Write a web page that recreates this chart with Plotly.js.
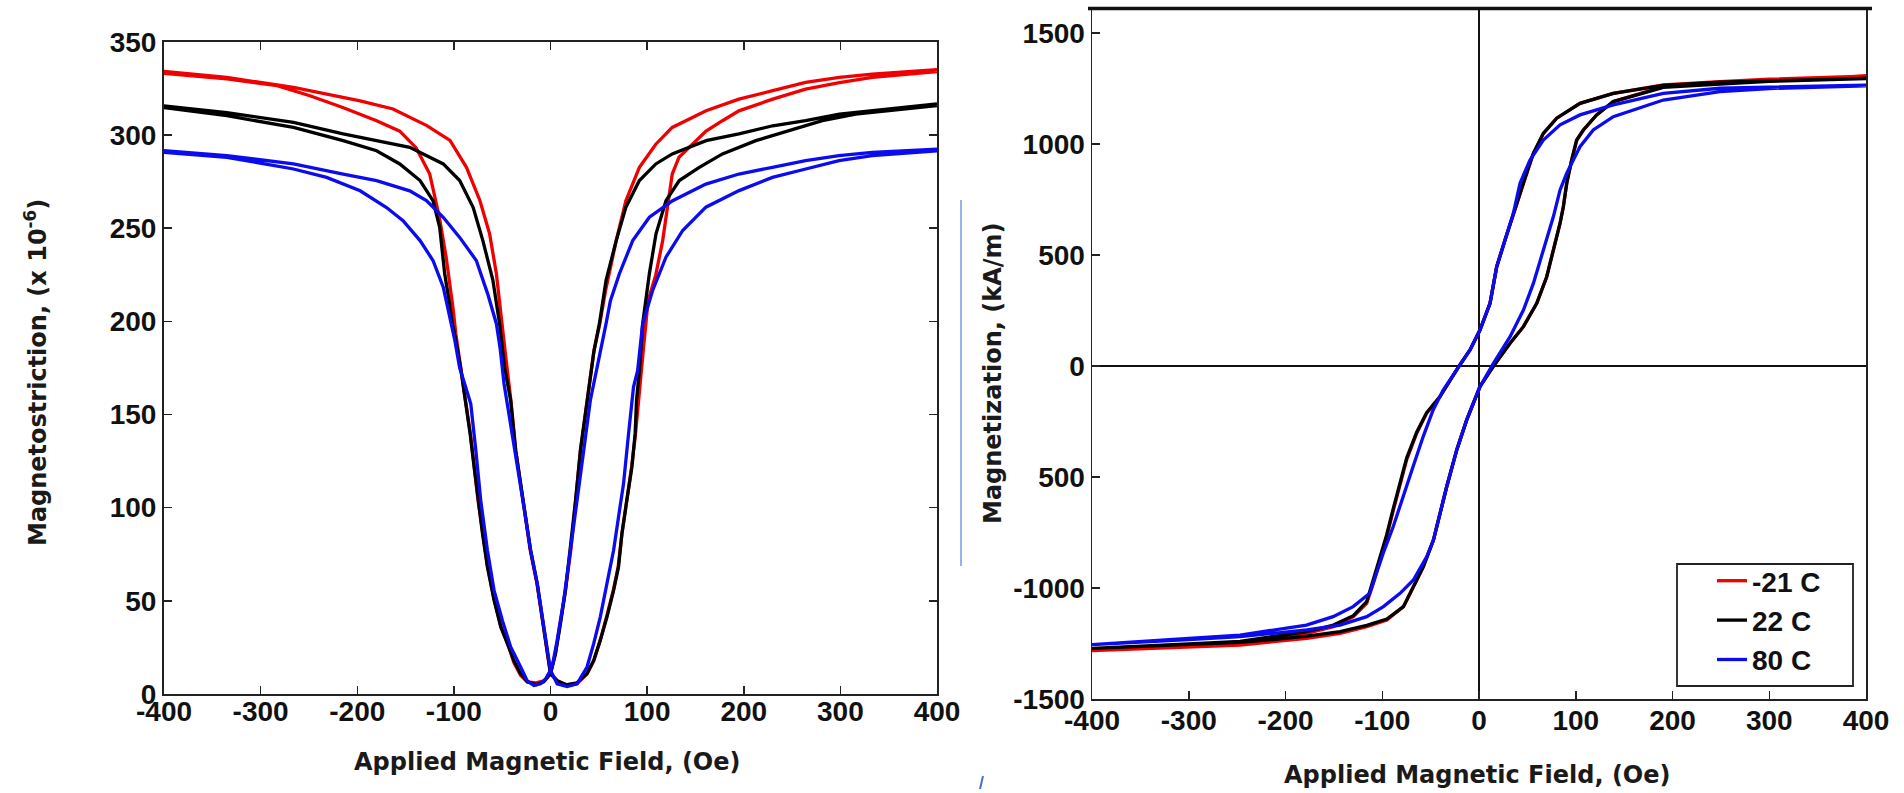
<!DOCTYPE html>
<html>
<head>
<meta charset="utf-8">
<script src="https://cdn.plot.ly/plotly-3.0.1.min.js"></script>
<style>html,body{margin:0;padding:0;background:#fff;}#chart{width:1904px;height:793px;}</style>
</head>
<body>
<div id="chart"></div>
<script>
// ---------- Left chart: magnetostriction (x 10^-6) vs applied field (Oe) ----------
const lsRedDescH = [400,333,299,264,230,195,161,126,109,92,78,68,57,51,45,38,31,26,21,15.5,10,5,0,-7,-15,-24,-31,-38,-43,-51,-58,-65,-70,-75,-79,-83,-88,-93,-98,-101,-104,-108,-115,-125,-139,-156,-180,-215,-249,-283,-335,-400];
const lsRedDescL = [335,332.6,330.8,328.2,323.7,319.2,313,304,295,282.6,264.7,243.3,216.5,198.7,184.4,157.5,130.8,103.9,77.1,55.6,37.7,21.7,10.9,7,6,6.5,10,17,25,36,50,68,86,104,122,140,157.5,175.4,193.3,207.6,220,234.4,255.8,279,293,302,307.6,314.7,321,326.4,330,333];
const lsRedAscH = [-400,-335,-266,-232,-197,-163,-128,-104,-87,-73,-63,-56,-50,-47,-41,-36,-31,-26,-21,-14,-8.6,-3.4,0,7,17,27.5,38,45,51.5,58,65,70,74,79,84,88,91,96,101,109,116,121,126,133,147,161,178,195,230,264,299,333,400];
const lsRedAscL = [334,330.8,325.5,322,318.3,313.9,305,297,282.6,264.7,246.9,225.5,200,184,157.5,130.8,112.9,95,77.1,59.2,41.3,23.4,10.9,7.3,4.6,5.5,10.9,18.1,28.8,41.3,55.6,68.2,86.1,103.9,121.8,139.7,157.5,184.4,211,225,243,261,279,288,295,302,307.6,312.9,319.2,324.5,328.1,330.8,334];

const lsBlackDescH = [400,333,299,264,230,195,161,126,109,92,78,68,57.5,50.6,45,38,31,26,20.6,15.5,10.3,5.2,0,-7,-15,-24,-31,-38,-43,-51.5,-58.4,-65.3,-70.4,-75,-79,-83.2,-88,-93,-98,-102,-105,-109.5,-114.7,-121.6,-135,-156,-180,-214.6,-266,-335,-400];
const lsBlackDescL = [316.6,313,311.2,307.6,304.9,300.5,296.9,289.8,284.4,275.5,261.2,243.3,221.9,198.7,184,157.5,130.8,104,77,55.6,37.7,21.7,10.9,6.5,5,6.5,11,18,25,36,50.3,68.2,86.1,103.9,121.8,139.7,157.5,175,190,200,211,225.5,250.4,264.7,275.5,284.4,291.5,296.9,304,310.3,314.7];
const lsBlackAscH = [-400,-335,-266,-214.6,-180,-145.7,-111,-94,-80,-70,-59.6,-52.7,-47.5,-41.2,-36.1,-30.9,-25.8,-20.6,-13.7,-8.6,-3.4,0,6.9,17,27.5,37.8,44.7,51.5,58.4,65.3,70.4,73.9,79,84.2,87.6,89,92,95.4,102.3,109.2,119.5,133.3,154,178,212.5,246.9,281.3,315.8,400];
const lsBlackAscL = [315.6,312,306.7,300.5,296.9,293.3,284.4,275.5,261,243.3,221.9,198.7,175,157.5,130.8,112.9,95,77.1,59.2,41.3,23.4,10.9,7,5,6,11,18,28.8,41.3,55.6,68.2,86.1,103.9,121.8,139.7,157.5,173.6,198.7,225.5,246.9,264.7,275.5,282.6,289.8,296.9,302.2,307.6,311.2,315.7];

const lsBlueDescH = [400,333,298.6,264,229.7,195,160.8,126.4,102.3,85.1,71.3,62,57.5,48,41.2,34.4,27.5,20.6,13.7,6.9,1.7,-5,-10.3,-17.2,-24,-30.9,-41.2,-49.8,-58.4,-65.3,-72.2,-77.3,-82.5,-88,-94,-99,-104,-111,-121.6,-135,-152.6,-169.7,-197,-231.7,-266,-335,-400];
const lsBlueDescL = [292.4,290.6,288.9,286.2,282.6,279,273.6,264.7,255.8,243.3,225.5,211,198.7,175.4,157.5,130.8,103.9,77.1,50.3,28.8,14.5,8,5.5,4.6,7,14.5,25.2,39.5,55.6,77.1,103.9,130.8,155.7,165,175,189.7,202.2,218.3,232.6,243.3,254,261,270,277.2,281.7,288,290.6];
const lsBlueAscH = [-400,-335,-266,-214.6,-180,-145.7,-128.4,-111,-94,-76.8,-65,-56,-52,-48.1,-39.5,-34.4,-27.5,-20.6,-13.7,-6.9,0,6.9,17.2,27.5,37.8,44.7,51.5,58.4,65.3,70.4,75.6,80.8,85.9,90.2,92.8,95.4,105.7,119.5,136.8,160.8,195.2,229.7,264.1,298.6,333,400];
const lsBlueAscL = [291.5,288.9,284.4,279,275.5,270,264.7,255.8,245,232.6,214.7,198.7,185,166.5,139.7,121.8,100.4,77.1,59.2,36,12.7,5.5,4,5.5,14.5,27,41.3,59.2,77.1,95,112.9,139.7,164.7,173.6,184.4,198.7,216.5,234.4,248.7,261.2,270.1,277.2,281.7,286.2,288.9,291.5];

// ---------- Right chart: magnetization (kA/m) vs applied field (Oe) ----------
const mRedDescH = [400,300,249,190.5,138.8,104.4,80.3,66.5,56.2,45.8,35.5,26.9,18.3,11.4,1,-9.3,-21,-33.4,-40.3,-54.1,-64.4,-74.8,-81.6,-88.5,-95.4,-102.3,-109.2,-116.1,-129.9,-150.5,-178.1,-212.5,-247,-300,-400];
const mRedDescM = [1305,1292,1281,1266,1228,1183,1116,1048,958,823,688,568,447,282,162,72,-3,-93,-138,-213,-303,-423,-529,-649,-769,-874,-979,-1069,-1129,-1174,-1204,-1227,-1249,-1264,-1280];
const mRedAscH = [-400,-300,-247,-212.5,-178,-143.6,-116,-95.3,-78.1,-67.8,-57.5,-47.1,-40.3,-33.4,-23,-12.7,1,15,32.1,45.9,59.7,70,76.9,83.8,87.2,90.7,95.8,101,107.9,121.6,138.8,190.5,249.1,300,400];
const mRedAscM = [-1282,-1266,-1257,-1242,-1227,-1204,-1174,-1144,-1084,-994,-904,-784,-664,-544,-378,-243,-93,0,102,177,282,402,523,643,718,823,928,1018,1063,1131,1191,1258,1274,1290,1305];

const mBlackDescH = [400,300,249,190.5,138.8,104.4,80.3,66.5,56.2,45.8,35.5,26.9,18.3,11.4,1,-9.3,-21,-33.4,-40.3,-54.1,-64.4,-74.8,-81.6,-88.5,-95.4,-102.3,-109.2,-116.1,-129.9,-150.5,-178.1,-212.5,-247,-300,-400];
const mBlackDescM = [1295,1285,1278,1264,1228,1183,1116,1048,958,823,688,568,447,282,162,72,-3,-93,-138,-210,-298,-415,-520,-640,-760,-865,-970,-1062,-1125,-1167,-1197,-1220,-1240,-1252,-1270];
const mBlackAscH = [-400,-300,-247,-212.5,-178,-143.6,-116,-95.3,-78.1,-67.8,-57.5,-47.1,-40.3,-33.4,-23,-12.7,1,15,32.1,45.9,59.7,70,76.9,83.8,87.2,90.7,95.8,101,107.9,121.6,138.8,190.5,249.1,300,400];
const mBlackAscM = [-1272,-1255,-1245,-1232,-1217,-1196,-1168,-1140,-1084,-994,-904,-784,-664,-544,-378,-243,-93,0,102,177,282,402,523,643,718,823,928,1018,1063,1131,1191,1255,1270,1282,1295];

const mBlueDescH = [400,300,249,190.5,138.8,104.4,83.8,66.5,52.7,42.4,35.5,26.9,18.3,11.4,1,-9.3,-21,-37,-47.4,-57.7,-68.1,-78.4,-88.7,-99.1,-106,-112.9,-130.1,-150.8,-178.3,-212.8,-247,-300,-400];
const mBlueDescM = [1265,1258,1251,1228,1176,1131,1086,1018,928,823,688,568,447,282,162,72,-3,-108,-198,-318,-453,-589,-724,-844,-934,-1024,-1084,-1129,-1167,-1189,-1212,-1227,-1252];
const mBlueAscH = [-400,-300,-247,-212.5,-178,-143.6,-116,-98.8,-81.6,-67.8,-54,-47.1,-40.3,-33.4,-23,-12.7,1,14.9,32.1,45.9,56.2,66.5,76.9,83.8,90.7,97.5,104.4,118.1,138.8,190.5,249.1,300,400];
const mBlueAscM = [-1255,-1232,-1219,-1204,-1189,-1167,-1129,-1084,-1024,-964,-859,-784,-664,-544,-378,-243,-93,12,132,252,372,523,673,793,868,928,988,1063,1123,1198,1236,1250,1262];

// ---------- Labels ----------
const seriesNames = ['-21 C', '22 C', '80 C'];
const fieldTicks = [-400,-300,-200,-100,0,100,200,300,400];
const fieldTickText = ['-400','-300','-200','-100','0','100','200','300','400'];
const lsTicks = [0,50,100,150,200,250,300,350];
const mTickVals = [-1500,-1000,-500,0,500,1000,1500];
const mTickText = ['-1500','-1000','500','0','500','1000','1500'];
const xTitle = 'Applied Magnetic Field, (Oe)';
const lsTitle = 'Magnetostriction, (x 10<sup>-6</sup>)';
const mTitle = 'Magnetization, (kA/m)';

const colors = ['#f00000', '#000000', '#0b0bf0'];

function loop(hA, vA, hB, vB, color, xa, ya, name, legend) {
  return {
    x: hA.concat(hB), y: vA.concat(vB),
    type: 'scatter', mode: 'lines', xaxis: xa, yaxis: ya,
    name: name, showlegend: legend,
    line: {color: color, width: 3.3}
  };
}

const data = [
  loop(lsRedDescH, lsRedDescL, lsRedAscH, lsRedAscL, colors[0], 'x', 'y', seriesNames[0], false),
  loop(lsBlackDescH, lsBlackDescL, lsBlackAscH, lsBlackAscL, colors[1], 'x', 'y', seriesNames[1], false),
  loop(lsBlueDescH, lsBlueDescL, lsBlueAscH, lsBlueAscL, colors[2], 'x', 'y', seriesNames[2], false),
  loop(mRedDescH, mRedDescM, mRedAscH, mRedAscM, colors[0], 'x2', 'y2', seriesNames[0], true),
  loop(mBlackDescH, mBlackDescM, mBlackAscH, mBlackAscM, colors[1], 'x2', 'y2', seriesNames[1], true),
  loop(mBlueDescH, mBlueDescM, mBlueAscH, mBlueAscM, colors[2], 'x2', 'y2', seriesNames[2], true)
];

const W = 1904, H = 793;
const px = v => v / W;
const py = v => (H - v) / H;

const tickFont = {family: 'Liberation Sans, Arial, sans-serif', size: 28, color: '#111', weight: 'bold'};
const titleFont = {family: 'DejaVu Sans, sans-serif', size: 24, color: '#1a1a1a', weight: 'bold'};

const layout = {
  width: W, height: H,
  margin: {l: 0, r: 0, t: 0, b: 0},
  paper_bgcolor: '#ffffff', plot_bgcolor: '#ffffff',
  font: {family: 'Liberation Sans, Arial, sans-serif', size: 28, color: '#111'},
  xaxis: {
    domain: [px(164), px(937)], range: [-400, 400], tickvals: fieldTicks, ticktext: fieldTickText,
    ticks: 'inside', ticklen: 8, tickwidth: 1.5, tickcolor: '#222',
    showline: true, linewidth: 2, linecolor: '#222', mirror: 'ticks',
    showgrid: false, zeroline: false, tickfont: tickFont, anchor: 'y',
    ticklabelstandoff: -9
  },
  yaxis: {
    domain: [py(694), py(41.7)], range: [0, 350], tickvals: lsTicks,
    ticks: 'inside', ticklen: 8, tickwidth: 1.5, tickcolor: '#222',
    showline: true, linewidth: 2, linecolor: '#222', mirror: 'ticks',
    showgrid: false, zeroline: false, tickfont: tickFont, anchor: 'x'
  },
  xaxis2: {
    domain: [px(1092), px(1866)], range: [-400, 400], tickvals: fieldTicks, ticktext: fieldTickText,
    ticks: 'inside', ticklen: 8, tickwidth: 1.5, tickcolor: '#222',
    showline: true, linewidth: 1.5, linecolor: '#222', mirror: true,
    showgrid: false, zeroline: true, zerolinecolor: '#111', zerolinewidth: 1.2,
    tickfont: tickFont, anchor: 'y2', ticklabelstandoff: -4
  },
  yaxis2: {
    domain: [py(699), py(9)], range: [-1500, 1608], tickvals: mTickVals, ticktext: mTickText,
    ticks: 'inside', ticklen: 8, tickwidth: 1.5, tickcolor: '#222',
    showline: true, linewidth: 1.5, linecolor: '#222', mirror: true,
    showgrid: false, zeroline: true, zerolinecolor: '#111', zerolinewidth: 1.2,
    tickfont: tickFont, anchor: 'x2'
  },
  legend: {
    x: px(1712), y: py(556), xanchor: 'left', yanchor: 'top',
    bgcolor: 'rgba(0,0,0,0)', borderwidth: 0,
    font: {family: 'Liberation Sans, Arial, sans-serif', size: 28, color: '#111', weight: 'bold'},
    tracegroupgap: 0
  },
  annotations: [
    {text: xTitle, xref: 'paper', yref: 'paper', x: px(547), y: py(762), xanchor: 'center', yanchor: 'middle', showarrow: false, font: titleFont},
    {text: xTitle, xref: 'paper', yref: 'paper', x: px(1477), y: py(775), xanchor: 'center', yanchor: 'middle', showarrow: false, font: titleFont},
    {text: lsTitle, xref: 'paper', yref: 'paper', x: px(36), y: py(373), xanchor: 'center', yanchor: 'middle', textangle: -90, showarrow: false, font: titleFont},
    {text: mTitle, xref: 'paper', yref: 'paper', x: px(993), y: py(374), xanchor: 'center', yanchor: 'middle', textangle: -90, showarrow: false, font: titleFont}
  ],
  shapes: [
    {type: 'line', xref: 'paper', yref: 'paper', x0: px(1088), x1: px(1872), y0: py(8.5), y1: py(8.5), line: {color: '#111', width: 3.5}},
    {type: 'rect', xref: 'paper', yref: 'paper', x0: px(1677), x1: px(1853), y0: py(686), y1: py(564), fillcolor: '#ffffff', line: {color: '#222', width: 1.8}, layer: 'above'},
    {type: 'line', xref: 'paper', yref: 'paper', x0: px(961), x1: px(961), y0: py(566), y1: py(200), line: {color: '#5a7fd6', width: 1.2}},
    {type: 'line', xref: 'paper', yref: 'paper', x0: px(983), x1: px(980), y0: py(776), y1: py(789), line: {color: '#4a6fd0', width: 2}}
  ]
};

Plotly.newPlot('chart', data, layout, {staticPlot: true, displayModeBar: false});
</script>
</body>
</html>
